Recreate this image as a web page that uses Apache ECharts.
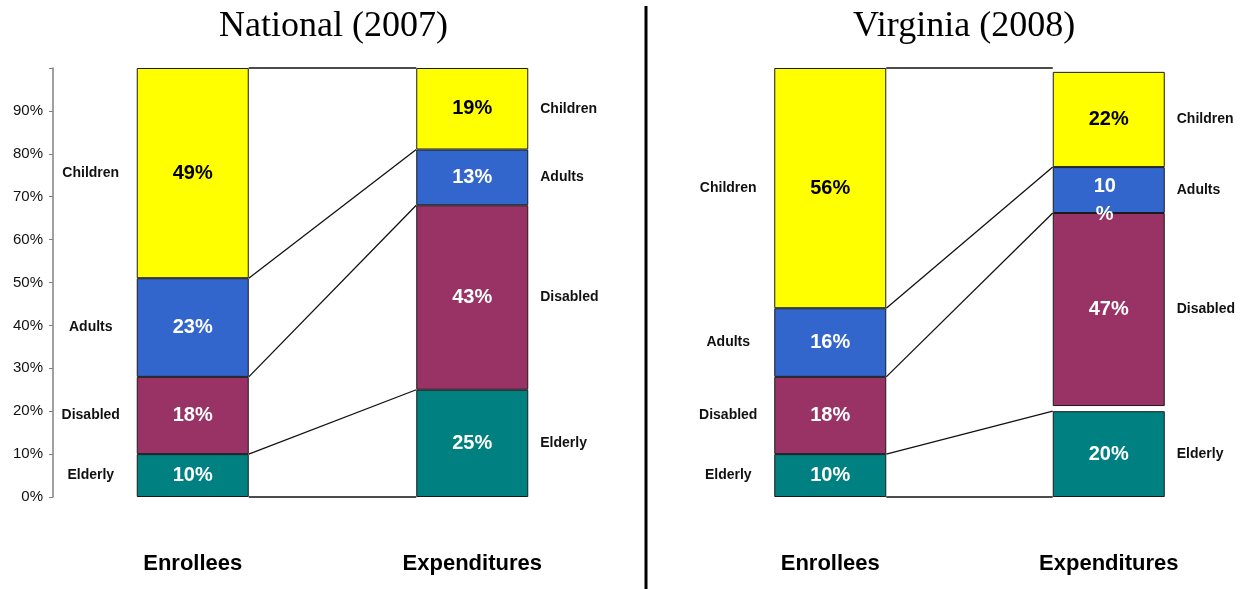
<!DOCTYPE html>
<html>
<head>
<meta charset="utf-8">
<title>Enrollees vs Expenditures</title>
<script src="https://cdn.jsdelivr.net/npm/echarts@6/dist/echarts.min.js" type="text/javascript" charset="utf-8"></script>
<style>
	*{
		margin: 0;
		padding: 0;
	}
	#main{
		width: 1249px;
		height: 589px;
		background: #fff;
	}
</style>
</head>
<body>
<div id="main"></div>
<script>
// groups from bottom of the stack to top
var groups = ['Elderly', 'Disabled', 'Adults', 'Children'];
var groupColors = ['#008080', '#993366', '#3366CC', '#FFFF00'];
var groupTextColors = ['#fff', '#fff', '#fff', '#000'];
var columns = ['Enrollees', 'Expenditures'];

// National (2007), % of total
var natEnrollees = [10, 18, 23, 49];
var natExpenditures = [25, 43, 13, 19];
var natEnrLabels = ['10%', '18%', '23%', '49%'];
var natExpLabels = ['25%', '43%', '13%', '19%'];

// Virginia (2008), % of total
var vaEnrollees = [10, 18, 16, 56];
var vaEnrLabels = ['10%', '18%', '16%', '56%'];
// expenditure blocks as drawn (they add to 99, disabled block sits a bit above elderly)
var vaExpenditures = [20, 45, 10.7, 22.2];
var vaExpGap = 1.2;
var vaExpLabels = ['20%', '47%', '10\n%', '22%'];

var BAR_W = 112;
var FONT = '"Liberation Sans", Arial, sans-serif';

var myChart = echarts.init(document.getElementById('main'));

function cum(arr, gap) {
	var out = [0], s = 0;
	for (var i = 0; i < arr.length; i++) {
		s += arr[i];
		if (i == 1) s += gap;   // gap sits below 2nd block
		out.push(s);
	}
	if (gap) out[1] = arr[0];
	return out;
}

function renderLink(params, api) {
	var a = api.coord([0, api.value(2)]);
	var b = api.coord([1, api.value(3)]);
	return {
		type: 'line',
		shape: {x1: a[0] + BAR_W / 2, y1: a[1], x2: b[0] - BAR_W / 2, y2: b[1]},
		style: {stroke: '#111', lineWidth: 1.3}
	};
}

function renderName(params, api) {
	var col = api.value(0);
	var p = api.coord([col, api.value(1)]);
	return {
		type: 'text',
		x: col == 0 ? p[0] - 102 : p[0] + 68,
		y: p[1],
		style: {
			text: groups[api.value(2)],
			align: col == 0 ? 'center' : 'left',
			verticalAlign: 'middle',
			font: 'bold 14px ' + FONT,
			fill: '#111'
		}
	};
}

function panel(idx, enr, exp, gap, enrLabels, expLabels) {
	var series = [];
	var stack = 'p' + idx;
	for (var i = 0; i < groups.length; i++) {
		if (i == 1 && gap) {
			series.push({
				type: 'bar', stack: stack, xAxisIndex: idx, yAxisIndex: idx,
				barWidth: BAR_W, silent: true,
				data: [0, gap],
				itemStyle: {color: 'rgba(0,0,0,0)', borderWidth: 0},
				label: {show: false}
			});
		}
		(function (i) {
			var data = [enr[i], exp[i]];
			// the wrapped "10 %" label sits lower and to the left in the original
			if (expLabels[i].indexOf('\n') >= 0) {
				data[1] = {value: exp[i], label: {offset: [-4, 10]}};
			}
			series.push({
				name: groups[i],
				type: 'bar', stack: stack, xAxisIndex: idx, yAxisIndex: idx,
				barWidth: BAR_W,
				data: data,
				itemStyle: {color: groupColors[i], borderColor: '#1a1a1a', borderWidth: 1},
				label: {
					show: true,
					position: 'inside',
					color: groupTextColors[i],
					fontFamily: FONT,
					fontWeight: 'bold',
					fontSize: 20,
					lineHeight: 28,
					formatter: function (p) {
						return p.dataIndex == 0 ? enrLabels[i] : expLabels[i];
					}
				}
			});
		})(i);
	}

	var ce = cum(enr, 0), cx = cum(exp, gap);
	var links = [[0, 0, 0, 0], [0, 0, 100, 100]];
	for (var k = 1; k < groups.length; k++) links.push([0, 0, ce[k], cx[k]]);
	series.push({
		type: 'custom', xAxisIndex: idx, yAxisIndex: idx, z: 5, silent: true,
		encode: {x: 0, y: 1},
		renderItem: renderLink,
		data: links
	});

	var names = [];
	for (var g = 0; g < groups.length; g++) {
		names.push([0, (ce[g] + ce[g + 1]) / 2, g]);
		var lo = g == 1 ? cx[1] + gap : cx[g];
		names.push([1, (lo + cx[g + 1]) / 2, g]);
	}
	series.push({
		type: 'custom', xAxisIndex: idx, yAxisIndex: idx, z: 6, silent: true,
		encode: {x: 0, y: 1},
		renderItem: renderName,
		data: names
	});
	return series;
}

var xAxisBase = {
	type: 'category',
	data: columns,
	axisLine: {show: false},
	axisTick: {show: false},
	axisLabel: {margin: 56, fontSize: 22, fontWeight: 'bold', fontFamily: FONT, color: '#000'}
};

var titleStyle = {fontFamily: '"Liberation Serif", "Times New Roman", serif', fontSize: 36, fontWeight: 'normal', color: '#000'};

var option = {
	backgroundColor: '#fff',
	animation: false,
	title: [
		{text: 'National (2007)', left: 214, top: 4, textStyle: titleStyle},
		{text: 'Virginia (2008)', left: 848, top: 4, textStyle: titleStyle}
	],
	grid: [
		{left: 53, right: 637, top: 68, bottom: 92, containLabel: false},
		{left: 691, right: 1, top: 68, bottom: 92, containLabel: false}
	],
	xAxis: [
		Object.assign({gridIndex: 0}, xAxisBase),
		Object.assign({gridIndex: 1}, xAxisBase)
	],
	yAxis: [
		{
			gridIndex: 0, type: 'value', min: 0, max: 100, interval: 10,
			splitLine: {show: false},
			axisLine: {show: true, lineStyle: {color: '#808080', width: 1.5}},
			axisTick: {show: true, length: 4, lineStyle: {color: '#808080'}},
			axisLabel: {
				margin: 10, fontSize: 15, fontFamily: FONT, color: '#111',
				formatter: function (v) { return v == 100 ? '' : v + '%'; }
			}
		},
		{gridIndex: 1, type: 'value', min: 0, max: 100, show: false, splitLine: {show: false}}
	],
	graphic: [
		{type: 'line', shape: {x1: 646, y1: 6, x2: 646, y2: 589}, style: {stroke: '#000', lineWidth: 3}}
	],
	series: panel(0, natEnrollees, natExpenditures, 0, natEnrLabels, natExpLabels)
		.concat(panel(1, vaEnrollees, vaExpenditures, vaExpGap, vaEnrLabels, vaExpLabels))
};

myChart.setOption(option);
</script>
</body>
</html>
